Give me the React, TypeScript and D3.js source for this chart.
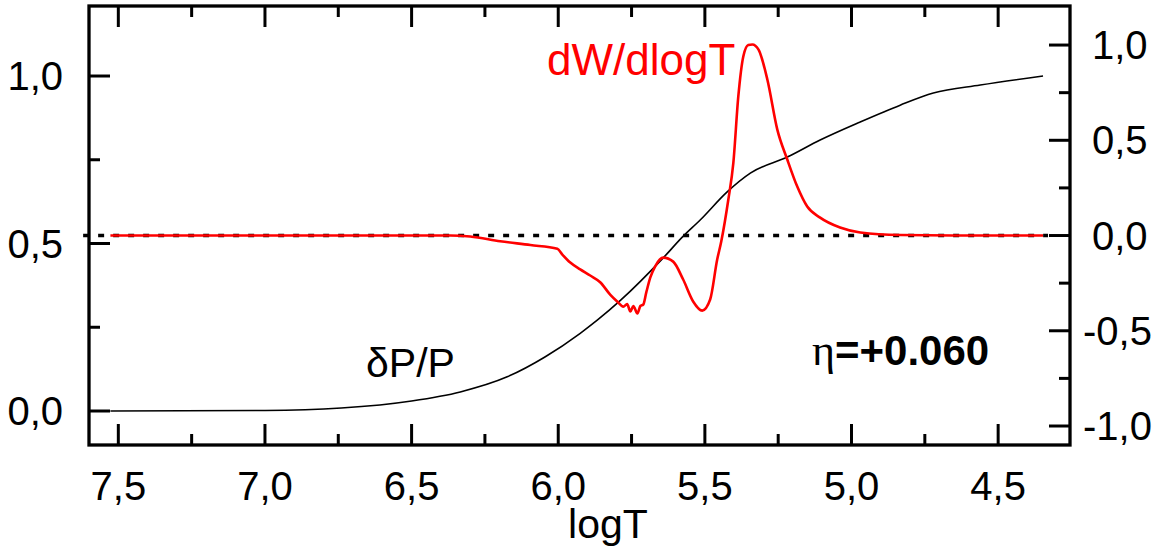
import React from "react";
import * as d3 from "d3";

// δP/P curve (left axis)
const dpLogT = [7.527, 7.0, 6.74, 6.5, 6.334, 6.174, 6.044, 5.925, 5.867, 5.788, 5.642, 5.577, 5.516, 5.424, 5.345, 5.219, 5.107, 4.97, 4.834, 4.721, 4.561, 4.347];
const dpValue = [0.0, 0.0015, 0.009, 0.03, 0.057, 0.102, 0.162, 0.232, 0.271, 0.33, 0.457, 0.519, 0.57, 0.654, 0.71, 0.758, 0.809, 0.863, 0.913, 0.949, 0.973, 1.0];

// dW/dlogT curve (right axis)
const dwLogT = [7.527, 7.2, 6.879, 6.539, 6.368, 6.3, 6.198, 6.095, 6.003, 5.986, 5.959, 5.925, 5.891, 5.857, 5.823, 5.799, 5.778, 5.765, 5.754, 5.744, 5.73, 5.72, 5.71, 5.7, 5.686, 5.669, 5.642, 5.608, 5.574, 5.54, 5.509, 5.482, 5.458, 5.444, 5.42, 5.403, 5.386, 5.369, 5.352, 5.338, 5.317, 5.287, 5.253, 5.219, 5.185, 5.151, 5.107, 5.039, 4.97, 4.834, 4.6, 4.347];
const dwValue = [0.0, 0.0, 0.0, 0.0, 0.0, -0.005, -0.03, -0.05, -0.07, -0.1, -0.142, -0.178, -0.21, -0.245, -0.31, -0.346, -0.373, -0.36, -0.399, -0.37, -0.409, -0.37, -0.362, -0.3, -0.22, -0.16, -0.116, -0.137, -0.231, -0.346, -0.394, -0.336, -0.126, -0.03, 0.189, 0.38, 0.73, 0.94, 1.0, 1.003, 0.976, 0.819, 0.556, 0.399, 0.257, 0.152, 0.094, 0.042, 0.016, 0.003, 0.0, 0.0];

// zero reference (dotted)
const zeroLogT = [7.62, 4.33];
const zeroValue = [0, 0];

const xTicks = [7.5, 7.0, 6.5, 6.0, 5.5, 5.0, 4.5];
const xMinor = [7.25, 6.75, 6.25, 5.75, 5.25, 4.75];
const leftTicks = [0.0, 0.5, 1.0];
const leftMinor = [0.25, 0.75];
const rightTicks = [-1.0, -0.5, 0.0, 0.5, 1.0];
const rightMinor = [-0.75, -0.25, 0.25, 0.75];

const fmt = (v: number) => v.toFixed(1).replace(".", ",");

export default function App() {
  const L = 89, R = 1070, T = 6, B = 445;
  const x = d3.scaleLinear().domain([7.6, 4.255]).range([L, R]);
  const yL = d3.scaleLinear().domain([-0.1015, 1.209]).range([B, T]);
  const yR = d3.scaleLinear().domain([-1.0997, 1.205]).range([B, T]);

  const dpLine = d3.line<number>().x((_, i) => x(dpLogT[i])).y((d) => yL(d)).curve(d3.curveMonotoneX);
  const dwLine = d3.line<number>().x((_, i) => x(dwLogT[i])).y((d) => yR(d)).curve(d3.curveMonotoneX);
  const zLine = d3.line<number>().x((_, i) => x(zeroLogT[i])).y((d) => yR(d));

  const font = "Liberation Sans, Arial, sans-serif";
  const maj = 21, mnr = 11;

  return (
    <svg width={1166} height={553} style={{ position: "absolute", left: 0, top: 0, background: "#fff" }} fontFamily={font}>
      <rect x={0} y={0} width={1166} height={553} fill="#fff" />
      {/* curves */}
      <path d={zLine(zeroValue) || ""} fill="none" stroke="#000" strokeWidth={3.5} strokeDasharray="6 9" />
      <path d={dpLine(dpValue) || ""} fill="none" stroke="#000" strokeWidth={1.6} />
      <path d={dwLine(dwValue) || ""} fill="none" stroke="#ff0000" strokeWidth={2.6} />
      {/* frame */}
      <rect x={L} y={T} width={R - L} height={B - T} fill="none" stroke="#000" strokeWidth={3.3} />
      {/* x ticks */}
      {xTicks.map((t) => (
        <g key={"x" + t}>
          <line x1={x(t)} x2={x(t)} y1={B} y2={B - maj} stroke="#000" strokeWidth={3} />
          <line x1={x(t)} x2={x(t)} y1={T} y2={T + maj} stroke="#000" strokeWidth={3} />
          <text x={x(t)} y={500} textAnchor="middle" fontSize={40}>{fmt(t)}</text>
        </g>
      ))}
      {xMinor.map((t) => (
        <g key={"xm" + t}>
          <line x1={x(t)} x2={x(t)} y1={B} y2={B - mnr} stroke="#000" strokeWidth={3} />
          <line x1={x(t)} x2={x(t)} y1={T} y2={T + mnr} stroke="#000" strokeWidth={3} />
        </g>
      ))}
      {/* left ticks */}
      {leftTicks.map((t) => (
        <g key={"l" + t}>
          <line x1={L} x2={L + maj} y1={yL(t)} y2={yL(t)} stroke="#000" strokeWidth={3} />
          <text x={63} y={yL(t) + 14} textAnchor="end" fontSize={40}>{fmt(t)}</text>
        </g>
      ))}
      {leftMinor.map((t) => (
        <line key={"lm" + t} x1={L} x2={L + mnr} y1={yL(t)} y2={yL(t)} stroke="#000" strokeWidth={3} />
      ))}
      {/* right ticks */}
      {rightTicks.map((t) => (
        <g key={"r" + t}>
          <line x1={R} x2={R - maj} y1={yR(t)} y2={yR(t)} stroke="#000" strokeWidth={3} />
          <text x={t < 0 ? 1083 : 1092} y={yR(t) + 14} textAnchor="start" fontSize={40}>{fmt(t)}</text>
        </g>
      ))}
      {rightMinor.map((t) => (
        <line key={"rm" + t} x1={R} x2={R - mnr} y1={yR(t)} y2={yR(t)} stroke="#000" strokeWidth={3} />
      ))}
      {/* labels */}
      <text x={608} y={538} textAnchor="middle" fontSize={41}>logT</text>
      <text x={547} y={75} fontSize={44} fill="#ff0000">dW/dlogT</text>
      <text x={366} y={377} fontSize={41}>δP/P</text>
      <text x={812} y={365} fontSize={42} fontWeight="bold">
        <tspan fontFamily="Liberation Serif, Times New Roman, serif" fontWeight="normal" fontSize={44}>η</tspan>=+0.060
      </text>
    </svg>
  );
}
